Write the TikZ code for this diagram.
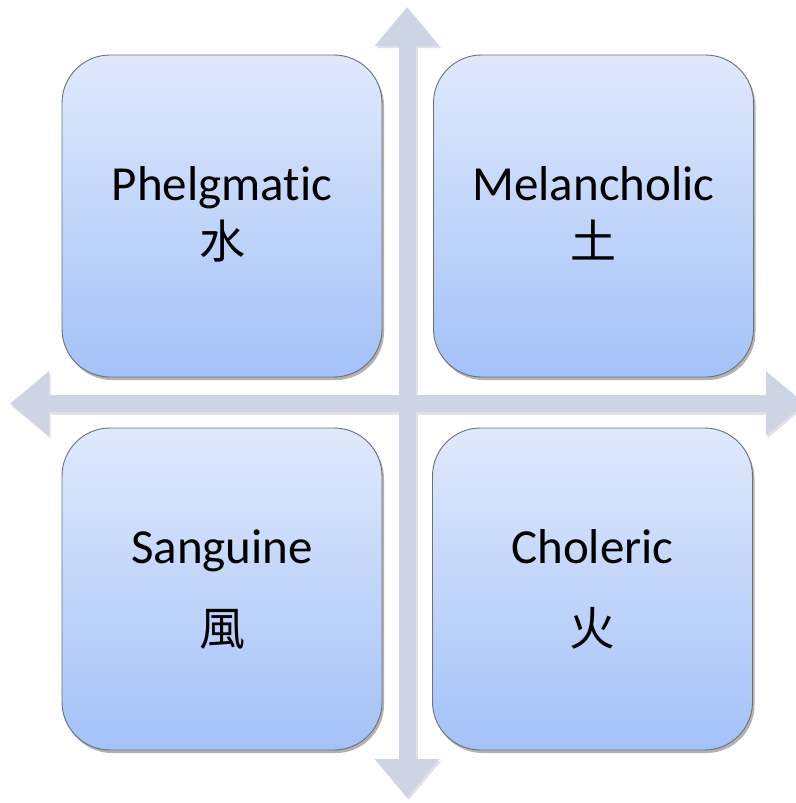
\documentclass[tikz,border=0pt]{standalone}
\usepackage{fontspec}
\setmainfont{Carlito}[Ligatures=NoCommon,Contextuals=NoAlternate]
\newfontfamily\cjkfont{Noto Sans CJK TC}
\usetikzlibrary{arrows.meta,shadows}
\definecolor{axisblue}{RGB}{205,213,229}
\definecolor{axisshade}{RGB}{224,226,232}
\definecolor{cardtop}{RGB}{223,233,252}
\definecolor{cardbottom}{RGB}{163,194,248}
\definecolor{cardborder}{RGB}{110,112,118}
\begin{document}
\begin{tikzpicture}[x=1pt,y=-1pt,
  axis/.style={draw=axisblue, line width=17pt,
    {Triangle[length=39pt,width=62pt]}-{Triangle[length=39pt,width=62pt]}},
  axisshadow/.style={axis, draw=axisshade},
  card/.style={rectangle, rounded corners=48pt, minimum width=320pt,
    minimum height=322pt, draw=cardborder, line width=0.9pt,
    top color=cardtop, bottom color=cardbottom,
    drop shadow={shadow xshift=2pt, shadow yshift=-3pt, opacity=0.3, fill=black}},
  latin/.style={anchor=base, inner sep=0pt, font=\fontsize{49}{58}\selectfont},
  cjk/.style={anchor=base, inner sep=0pt, font=\cjkfont\fontsize{46}{54}\selectfont}]
\useasboundingbox (0,0) rectangle (795,803);
\fill[white] (0,0) rectangle (795,803);
% axes
\coordinate (W) at (10,403.5);
\coordinate (E) at (805,403.5);
\coordinate (N) at (407,7);
\coordinate (S) at (407,798);
\coordinate (Ws) at (11.5,406);
\coordinate (Es) at (806.5,406);
\coordinate (Ns) at (409,9);
\coordinate (Ss) at (409,800);
\draw[axisshadow] (Ws) -- (Es);
\draw[axisshadow] (Ns) -- (Ss);
\draw[axis] (W) -- (E);
\draw[axis] (N) -- (S);
% cards
\node[card] (tl) at (222,216) {};
\node[card] (tr) at (593.5,216) {};
\node[card] (bl) at (222,589) {};
\node[card] (br) at (592.5,589) {};
% texts
\node[latin] (tlA) at (222,200) {Phelgmat\kern0pt ic};
\node[cjk] (tlB) at (222,258) {水};
\node[latin] (trA) at (593.5,200) {Melancholic};
\node[cjk] (trB) at (593.5,258) {土};
\node[latin] (blA) at (222,563) {Sanguine};
\node[cjk] (blB) at (222,645) {風};
\node[latin] (brA) at (592.5,563) {Choleric};
\node[cjk] (brB) at (592.5,645) {火};
\end{tikzpicture}
\end{document}
